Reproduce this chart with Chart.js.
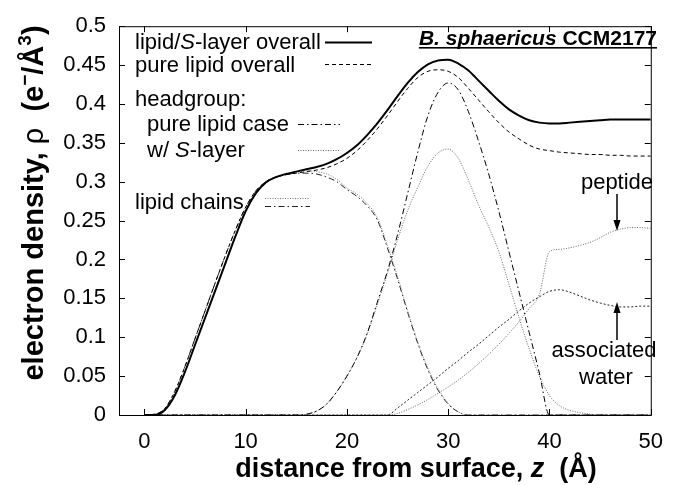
<!DOCTYPE html>
<html><head><meta charset="utf-8">
<script src="https://cdn.jsdelivr.net/npm/chart.js@4.4.0/dist/chart.umd.min.js"></script>
<style>html,body{margin:0;padding:0;background:#fff;} #wrap{width:677px;height:485px;}</style>
</head><body><div id="wrap"><canvas id="c" width="677" height="485"></canvas></div>
<script>
// distance from surface z (Å), 0..50 step 1
const Z = [0,1,2,3,4,5,6,7,8,9,10,11,12,13,14,15,16,17,18,19,20,21,22,23,24,25,26,27,28,29,30,31,32,33,34,35,36,37,38,39,40,41,42,43,44,45,46,47,48,49,50];
const XTICKS = [0,10,20,30,40,50];
const YTICKS = [0,0.05,0.1,0.15,0.2,0.25,0.3,0.35,0.4,0.45,0.5];
const YTICK_LABELS = ['0','0.05','0.1','0.15','0.2','0.25','0.3','0.35','0.4','0.45','0.5'];

// electron density ρ (e-/Å3)
const overallSLayer = [0,0,0.006,0.025,0.055,0.09,0.125,0.16,0.195,0.23,0.262,0.285,0.299,0.306,0.31,0.313,0.316,0.319,0.323,0.329,0.337,0.347,0.36,0.375,0.392,0.41,0.427,0.441,0.451,0.456,0.457,0.452,0.443,0.43,0.417,0.404,0.393,0.385,0.379,0.376,0.375,0.375,0.376,0.377,0.378,0.379,0.38,0.38,0.38,0.38,0.38];
const overallPure = [0,0.001,0.008,0.03,0.062,0.098,0.134,0.17,0.205,0.238,0.267,0.288,0.3,0.306,0.309,0.311,0.313,0.315,0.318,0.323,0.33,0.34,0.353,0.368,0.385,0.403,0.42,0.434,0.442,0.444,0.442,0.434,0.42,0.405,0.39,0.376,0.364,0.355,0.347,0.342,0.34,0.338,0.337,0.336,0.335,0.335,0.334,0.334,0.333,0.333,0.333];
const headPure = [0,0,0,0,0,0,0,0,0,0,0,0,0,0,0,0,0.001,0.005,0.014,0.03,0.05,0.074,0.105,0.145,0.185,0.232,0.285,0.338,0.385,0.415,0.427,0.418,0.39,0.352,0.31,0.262,0.21,0.158,0.106,0.054,0,0,0,0,0,0,0,0,0,0,0];
const headSLayer = [0,0,0,0,0,0,0,0,0,0,0,0,0,0,0,0,0.001,0.005,0.014,0.03,0.05,0.074,0.104,0.142,0.182,0.225,0.263,0.293,0.32,0.337,0.342,0.33,0.302,0.27,0.242,0.21,0.168,0.125,0.085,0.05,0.025,0.012,0.006,0.003,0.001,0,0,0,0,0,0];
const chainsSLayer = [0,0,0.006,0.025,0.055,0.09,0.125,0.16,0.195,0.23,0.262,0.285,0.299,0.306,0.31,0.313,0.314,0.313,0.31,0.303,0.292,0.284,0.272,0.254,0.218,0.178,0.134,0.094,0.06,0.034,0.015,0.004,0,0,0,0,0,0,0,0,0,0,0,0,0,0,0,0,0,0,0];
const chainsPure = [0,0.001,0.008,0.03,0.062,0.098,0.134,0.17,0.205,0.238,0.267,0.288,0.3,0.306,0.309,0.311,0.311,0.31,0.306,0.3,0.29,0.281,0.269,0.251,0.215,0.175,0.132,0.092,0.058,0.032,0.014,0.004,0,0,0,0,0,0,0,0,0,0,0,0,0,0,0,0,0,0,0];
const peptide = [0,0,0,0,0,0,0,0,0,0,0,0,0,0,0,0,0,0,0,0,0,0,0,0,0,0.002,0.007,0.013,0.02,0.028,0.036,0.045,0.055,0.066,0.078,0.091,0.105,0.12,0.137,0.155,0.21,0.213,0.215,0.218,0.222,0.228,0.235,0.239,0.241,0.241,0.24];
const water = [0,0,0,0,0,0,0,0,0,0,0,0,0,0,0,0,0,0,0,0,0,0,0,0,0,0.009,0.019,0.029,0.039,0.049,0.06,0.07,0.081,0.091,0.102,0.113,0.123,0.134,0.144,0.152,0.159,0.161,0.158,0.153,0.148,0.144,0.141,0.139,0.139,0.14,0.14];

const FAM = '"Liberation Sans", Arial, Helvetica, sans-serif';
Chart.defaults.font.family = FAM;
Chart.defaults.color = '#000';

const DASH = [4,3], DASHDOT = [6,3,1.5,3], DOT = [1,1.5], DOT2 = [2,2];
function mk(label, ys, color, width, dash){
  return {label, data: Z.map((z,i)=>({x:z,y:ys[i]})), borderColor: color, borderWidth: width,
    borderDash: dash, pointRadius: 0, fill: false, cubicInterpolationMode: 'monotone'};
}

function rich(ctx, segs, x, y, align){
  let w = 0;
  for (const s of segs){ ctx.font = s.f; w += ctx.measureText(s.t).width; }
  let sx = align==='center' ? x - w/2 : align==='right' ? x - w : x;
  const x0 = sx;
  for (const s of segs){ ctx.font = s.f; ctx.fillText(s.t, sx, y + (s.dy||0)); sx += ctx.measureText(s.t).width; }
  return {x0, w};
}
function hline(ctx, x1, x2, y, color, width, dash){
  ctx.save(); ctx.strokeStyle = color; ctx.lineWidth = width; ctx.setLineDash(dash);
  ctx.beginPath(); ctx.moveTo(x1, y); ctx.lineTo(x2, y); ctx.stroke(); ctx.restore();
}
function arrow(ctx, x, y1, y2){
  const dir = y2 > y1 ? 1 : -1;
  ctx.save(); ctx.strokeStyle='#000'; ctx.fillStyle='#000'; ctx.lineWidth=1.5; ctx.setLineDash([]);
  ctx.beginPath(); ctx.moveTo(x, y1); ctx.lineTo(x, y2 - dir*6); ctx.stroke();
  ctx.beginPath(); ctx.moveTo(x, y2); ctx.lineTo(x-3.5, y2 - dir*11); ctx.lineTo(x+3.5, y2 - dir*11); ctx.closePath(); ctx.fill();
  ctx.restore();
}

const deco = {
  id: 'deco',
  afterDraw(chart){
    const {ctx, chartArea: a, scales: {x, y}} = chart;
    ctx.save();
    ctx.strokeStyle = '#000'; ctx.lineWidth = 1; ctx.setLineDash([]);
    ctx.strokeRect(a.left + 0.5, a.top + 0.5, a.right - a.left, a.bottom - a.top);
    ctx.beginPath();
    for (const v of YTICKS){
      const py = Math.round(y.getPixelForValue(v)) + 0.5;
      ctx.moveTo(a.left, py); ctx.lineTo(a.left + 6, py);
      ctx.moveTo(a.right, py); ctx.lineTo(a.right - 6, py);
    }
    for (const v of XTICKS){
      const px = Math.round(x.getPixelForValue(v)) + 0.5;
      ctx.moveTo(px, a.bottom); ctx.lineTo(px, a.bottom - 6);
      ctx.moveTo(px, a.top); ctx.lineTo(px, a.top + 6);
    }
    ctx.stroke();

    ctx.fillStyle = '#000'; ctx.textBaseline = 'alphabetic';
    const R = '22px ' + FAM, I = 'italic 22px ' + FAM;
    // legend
    rich(ctx, [{t:'lipid/', f:R},{t:'S', f:I},{t:'-layer overall', f:R}], 135, 49, 'left');
    hline(ctx, 325, 372, 42.5, '#000', 2, []);
    rich(ctx, [{t:'pure lipid overall', f:R}], 135, 72, 'left');
    hline(ctx, 325, 372, 64.5, '#000', 1, DASH);
    rich(ctx, [{t:'headgroup:', f:R}], 135, 106, 'left');
    rich(ctx, [{t:'pure lipid case', f:R}], 147, 131, 'left');
    hline(ctx, 298, 340, 124.5, '#000', 1, DASHDOT);
    rich(ctx, [{t:'w/ ', f:R},{t:'S', f:I},{t:'-layer', f:R}], 147, 157, 'left');
    hline(ctx, 298, 340, 150.5, '#666', 1, DOT);
    rich(ctx, [{t:'lipid chains', f:R}], 135, 209, 'left');
    hline(ctx, 265, 310, 198.5, '#777', 1, DOT);
    hline(ctx, 265, 310, 206.5, '#222', 1, DASHDOT);

    // top-right label
    const BI = 'italic bold 21px ' + FAM, B = 'bold 21px ' + FAM;
    const r = rich(ctx, [{t:'B. sphaericus', f:BI},{t:' CCM2177', f:B}], 657, 45, 'right');
    ctx.fillRect(r.x0, 47, r.w, 1.6);

    // annotations
    rich(ctx, [{t:'peptide', f:R}], 617, 189, 'center');
    arrow(ctx, 617, 194, 231);
    rich(ctx, [{t:'associated', f:R}], 604, 357, 'center');
    rich(ctx, [{t:'water', f:R}], 606, 384, 'center');
    arrow(ctx, 617, 340, 302);

    // axis titles
    const TB = 'bold 27px ' + FAM, TBI = 'italic bold 27px ' + FAM;
    rich(ctx, [{t:'distance from surface, ', f:TB},{t:'z', f:TBI},{t:'  (Å)', f:TB}], 416, 477, 'center');
    ctx.save();
    ctx.translate(43, 203); ctx.rotate(-Math.PI/2);
    const YB = 'bold 29px ' + FAM;
    rich(ctx, [{t:'electron density, ', f:YB},{t:'ρ', f:'29px ' + FAM},{t:'  (e', f:YB},{t:'−', f:'bold 19px ' + FAM, dy:-12},{t:'/Å', f:YB},{t:'3', f:'bold 19px ' + FAM, dy:-12},{t:')', f:YB}], 0, 0, 'center');
    ctx.restore();
    ctx.restore();
  }
};

new Chart(document.getElementById('c'), {
  type: 'line',
  data: { datasets: [
    mk('lipid/S-layer overall', overallSLayer, '#000', 2, []),
    mk('pure lipid overall', overallPure, '#000', 1, DASH),
    mk('headgroup: pure lipid case', headPure, '#000', 1, DASHDOT),
    mk('headgroup: w/ S-layer', headSLayer, '#666', 1, DOT),
    mk('lipid chains (S-layer)', chainsSLayer, '#777', 1, DOT),
    mk('lipid chains (pure)', chainsPure, '#222', 1, DASHDOT),
    mk('peptide', peptide, '#666', 1, DOT),
    mk('associated water', water, '#222', 1, DOT2)
  ]},
  options: {
    responsive: false, animation: false,
    layout: { padding: { left: 0, right: 15, top: 22, bottom: 0 } },
    plugins: { legend: { display: false }, tooltip: { enabled: false } },
    scales: {
      x: { type: 'linear', min: -2.5, max: 50,
        grid: { display: false, drawTicks: false }, border: { display: false },
        afterBuildTicks: s => { s.ticks = XTICKS.map(v => ({value: v})); },
        afterFit: s => { s.height = 70; },
        ticks: { font: { size: 22 }, padding: 14, maxRotation: 0, autoSkip: false, color: '#000' } },
      y: { type: 'linear', min: 0, max: 0.5,
        grid: { display: false, drawTicks: false }, border: { display: false },
        afterBuildTicks: s => { s.ticks = YTICKS.map(v => ({value: v})); },
        afterFit: s => { s.width = 119; },
        ticks: { font: { size: 22 }, padding: 13, autoSkip: false, color: '#000',
          callback: (v) => { const i = YTICKS.findIndex(t => Math.abs(t - v) < 1e-9); return i >= 0 ? YTICK_LABELS[i] : ''; } } }
    }
  },
  plugins: [deco]
});
</script>
</body></html>
